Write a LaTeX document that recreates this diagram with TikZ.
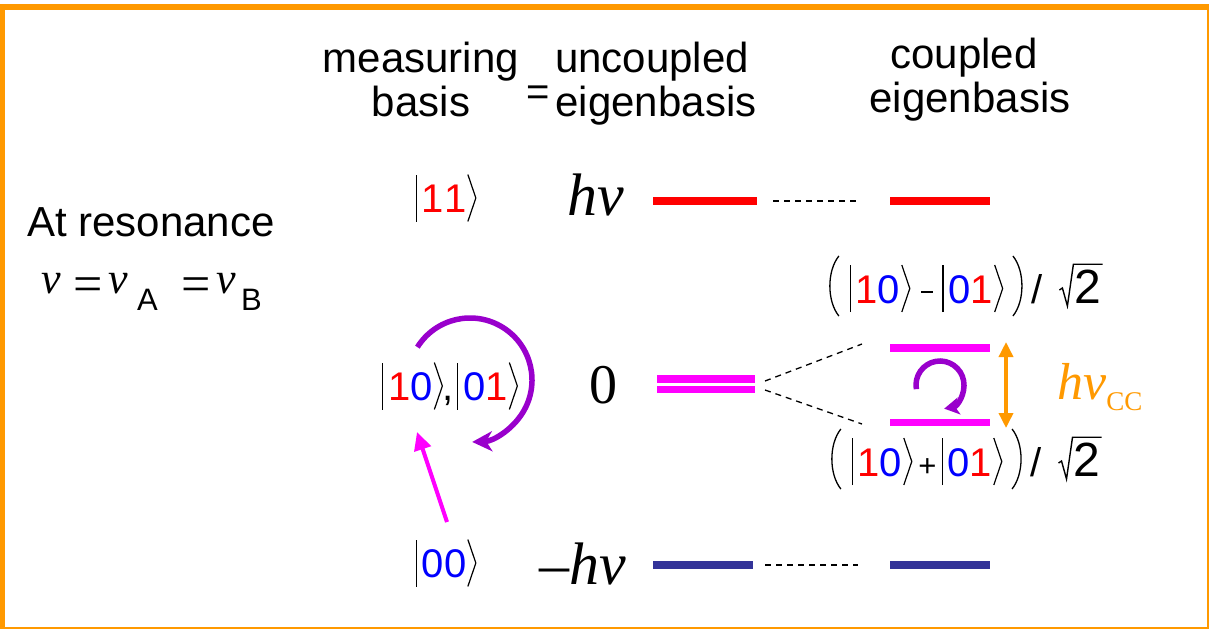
\documentclass[tikz,border=0pt]{standalone}
\usepackage{fontspec}
\setmainfont{Liberation Sans}
\newfontfamily\serifnu{Liberation Serif}
\usetikzlibrary{arrows.meta}
\definecolor{frameor}{RGB}{255,153,0}
\definecolor{kred}{RGB}{255,0,0}
\definecolor{kblue}{RGB}{0,0,255}
\definecolor{lvlblue}{RGB}{51,51,153}
\definecolor{mag}{RGB}{255,0,255}
\definecolor{purp}{RGB}{153,0,204}
\newcommand{\kOne}{\textcolor{kred}{1}}
\newcommand{\kZero}{\textcolor{kblue}{0}}
\newcommand{\kbar}{\tikz[baseline=0pt,x=1pt,y=1pt]\draw[black,line width=1.2pt] (0,-9)--(0,38);}
\newcommand{\kang}{\tikz[baseline=0pt,x=1pt,y=1pt]\draw[black,line width=1.2pt,line join=miter] (0,-9)--(8,14.5)--(0,38);}
\newcommand{\ket}[1]{\kbar\hspace{5pt}#1\hspace{1pt}\kang}
\newcommand{\bigparl}{\tikz[baseline=0pt,x=1pt,y=1pt]\draw[black,line width=1.3pt] (9,-13) .. controls (-3,2) and (-3,32) .. (9,47);}
\newcommand{\bigparr}{\tikz[baseline=0pt,x=1pt,y=1pt]\draw[black,line width=1.3pt] (0,-13) .. controls (12,2) and (12,32) .. (0,47);}
\newcommand{\kminus}{\rule[10pt]{12pt}{1.8pt}}
\newcommand{\sqrttwo}{\tikz[baseline=(t.base),x=1pt,y=1pt]{\node[inner sep=0pt,black,font=\fontsize{48}{52}\selectfont](t){2};
  \draw[black,line width=1.4pt,line join=miter] ([xshift=-15pt,yshift=13pt]t.base west) -- ++(3,2) -- ([xshift=-7pt,yshift=-3pt]t.base west) -- ([xshift=-1pt,yshift=5pt]t.north west) -- ([xshift=1pt,yshift=5pt]t.north east);}}
\begin{document}
\begin{tikzpicture}[x=1pt,y=-1pt,
  hdr/.style={inner sep=0pt, font=\fontsize{42}{48}\selectfont},
  ketf/.style={inner sep=0pt, font=\fontsize{40}{46}\selectfont},
  elab/.style={inner sep=0pt, font=\serifnu\fontsize{60}{66}\selectfont},
  nuf/.style={inner sep=0pt, anchor=base west, font=\serifnu\itshape\fontsize{44}{50}\selectfont},
  eqf/.style={inner sep=0pt, anchor=base, font=\serifnu\fontsize{52}{58}\selectfont},
  subf/.style={inner sep=0pt, anchor=base west, font=\fontsize{31}{34}\selectfont},
  lvl/.style={line width=8pt},
  guide/.style={black, line width=1.3pt, dash pattern=on 6pt off 5pt},
  loop/.style={purp, line width=5.5pt},
]
\useasboundingbox (0,0) rectangle (1209,629);
% frame
\fill[frameor] (0,4) rectangle (1209,10);
\fill[frameor] (0,4) rectangle (5,629);
\fill[frameor] (1206.5,4) rectangle (1209,629);
\fill[frameor] (0,627) rectangle (1209,629);
% headers
\node[hdr, anchor=base] (mh1) at (421,72) {measuring};
\node[hdr, anchor=base] (mh2) at (421,116) {basis};
\node[hdr, anchor=base] (uh1) at (652,72) {uncoupled};
\node[hdr, anchor=base] (uh2) at (656,116) {eigenbasis};
\node[inner sep=0pt, font=\fontsize{40}{44}\selectfont] (eqs) at (538,96) {=};
\node[hdr, anchor=base] (ch1) at (964,68) {coupled};
\node[hdr, anchor=base] (ch2) at (970,112) {eigenbasis};
% left text
\node[hdr, anchor=base west] (res) at (27,236) {At resonance};
\node[nuf] (nu1) at (41,293) {ν};
\node[eqf] (eq1) at (88,301) {=};
\node[nuf] (nu2) at (108,293) {ν};
\node[subf] (sa) at (137,310) {A};
\node[eqf] (eq2) at (196,301) {=};
\node[nuf] (nu3) at (216,293) {ν};
\node[subf] (sb) at (241,310) {B};
% kets
\node[ketf] (k11) at (446,198) {\ket{\kOne\kOne}};
\node[ketf] (k10) at (450,386) {\ket{\kOne\kZero},\hspace{3pt}\ket{\kZero\kOne}};
\node[ketf] (k00) at (446,563) {\ket{\kZero\kZero}};
% energy labels
\node[elab, anchor=base] (ehi) at (596,215) {\itshape hν};
\node[elab, font=\serifnu\fontsize{56}{60}\selectfont] (ezero) at (603,385) {0};
\node[elab, anchor=base east] (elo) at (626,584) {–\itshape hν};
% levels
\coordinate (r1) at (653,201); \coordinate (r2) at (757,201);
\coordinate (r3) at (890,201); \coordinate (r4) at (990,201);
\coordinate (d1) at (773,201); \coordinate (d2) at (860,201);
\draw[lvl, kred] (r1) -- (r2);
\draw[lvl, kred] (r3) -- (r4);
\draw[guide] (d1) -- (d2);
\coordinate (m1) at (657,379); \coordinate (m2) at (755,379);
\coordinate (m3) at (657,389.5); \coordinate (m4) at (755,389.5);
\draw[mag, line width=7.5pt] (m1) -- (m2);
\draw[mag, line width=7pt] (m3) -- (m4);
\coordinate (mu1) at (890,348); \coordinate (mu2) at (990,348);
\coordinate (ml1) at (890,422.5); \coordinate (ml2) at (990,422.5);
\draw[mag, line width=7.5pt] (mu1) -- (mu2);
\draw[mag, line width=7pt] (ml1) -- (ml2);
\coordinate (s0a) at (765,381); \coordinate (s1) at (862,344);
\coordinate (s0b) at (765,390); \coordinate (s2) at (862,424);
\draw[guide] (s0a) -- (s1);
\draw[guide] (s0b) -- (s2);
\coordinate (b1) at (653,565); \coordinate (b2) at (753,565);
\coordinate (b3) at (890,565); \coordinate (b4) at (990,565);
\coordinate (e1) at (765,565); \coordinate (e2) at (858,565);
\draw[lvl, lvlblue] (b1) -- (b2);
\draw[lvl, lvlblue] (b3) -- (b4);
\draw[guide] (e1) -- (e2);
% coupled labels
\node[ketf, anchor=base west] (antisym) at (826,303) {\bigparl\hspace{10pt}\ket{\kOne\kZero}\hspace{11pt}\kminus\hspace{9pt}\ket{\kZero\kOne}\hspace{9pt}\bigparr\hspace{6pt}/\hspace{16pt}\sqrttwo};
\node[ketf, anchor=base west] (sym) at (828,476) {\bigparl\hspace{10pt}\ket{\kOne\kZero}\hspace{6pt}{\fontsize{31}{34}\selectfont+}\hspace{5pt}\ket{\kZero\kOne}\hspace{9pt}\bigparr\hspace{6pt}/\hspace{16pt}\sqrttwo};
% splitting arrow
\coordinate (oa) at (1006,342); \coordinate (ob) at (1006,428);
\draw[frameor, line width=3.5pt, {Triangle[width=14pt,length=15pt]}-{Triangle[width=14pt,length=15pt]}] (oa) -- (ob);
\node[inner sep=0pt, anchor=base west, text=frameor] (hcc) at (1057,399)
  {\serifnu\itshape\fontsize{52}{58}\selectfont hν\upshape\raisebox{-11pt}{\fontsize{27}{30}\selectfont CC}};
% excitation arrow
\coordinate (mtail) at (447,522); \coordinate (mtip) at (417,432);
\draw[mag, line width=4pt, -{Triangle[width=17pt,length=18pt]}] (mtail) -- (mtip);
% loops
\coordinate (loopc) at (470,380);
\draw[loop, -{Stealth[width=20pt,length=20pt,inset=6pt]}] ([shift={(212:62)}]loopc) arc[start angle=212, end angle=448, radius=62];
\coordinate (curlc) at (940,385);
\draw[loop, -{Stealth[width=17pt,length=15pt,inset=4pt]}] ([shift={(170:24)}]curlc) arc[start angle=170, end angle=440, radius=24];
\end{tikzpicture}
\end{document}
